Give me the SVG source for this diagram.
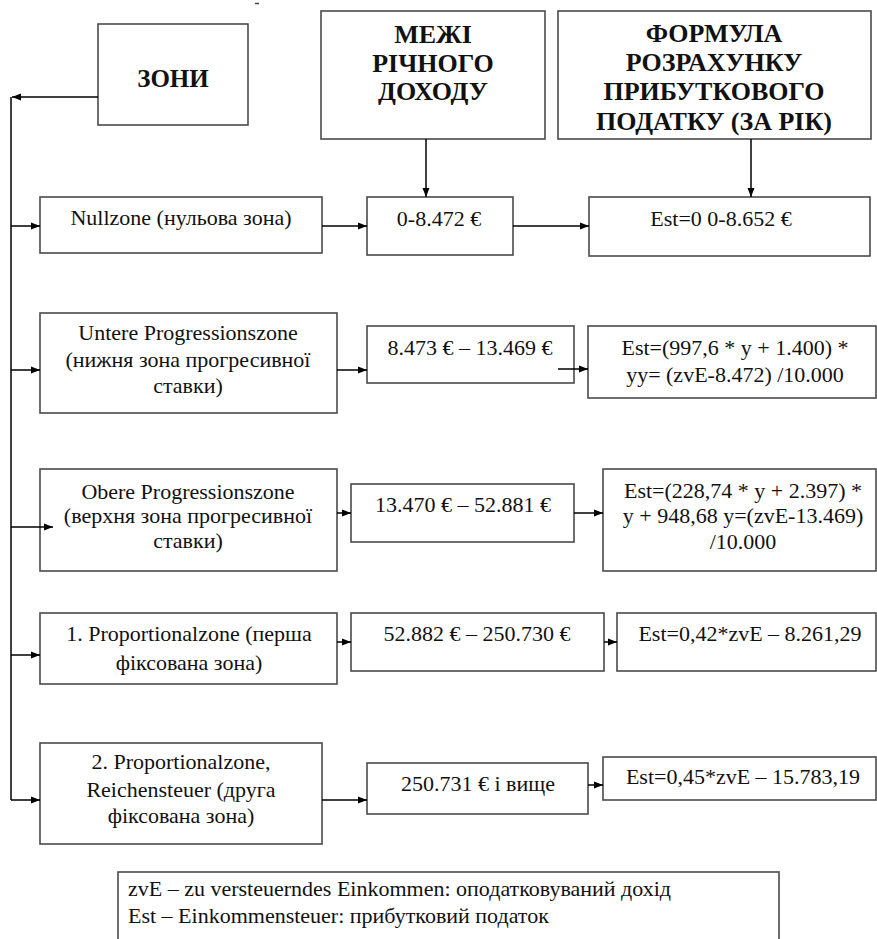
<svg xmlns="http://www.w3.org/2000/svg" width="877" height="939" viewBox="0 0 877 939">
<defs>
<marker id="ah" markerWidth="9" markerHeight="8" refX="9" refY="4" orient="auto" markerUnits="userSpaceOnUse"><path d="M0,0.5 L9,4 L0,7.5 z" fill="#000"/></marker>
<style>
.box{fill:#fff;stroke:#4a4a4a;stroke-width:1.6}
text{font-family:'Liberation Serif','DejaVu Serif','Noto Serif',serif;fill:#111}
.t{font-size:22px;text-anchor:middle}
.h{font-size:26px;font-weight:bold;text-anchor:middle}
.lg{font-size:22px}
.c{fill:none;stroke:#000;stroke-width:1.5}
.ca{fill:none;stroke:#000;stroke-width:1.5;marker-end:url(#ah)}
</style>
</defs>
<rect width="877" height="939" fill="#fff"/>
<line x1="255" y1="3.5" x2="259" y2="3.5" stroke="#444" stroke-width="1.5"/>

<g id="zones-header"><rect class="box" x="98" y="24" width="150" height="101"/><text class="h" x="173" y="87" style="font-size:25px">ЗОНИ</text></g>
<g id="limits-header"><rect class="box" x="321" y="11" width="224" height="128"/>
<text class="h" x="433" y="43">МЕЖІ</text><text class="h" x="433" y="72">РІЧНОГО</text><text class="h" x="433" y="100">ДОХОДУ</text></g>
<g id="formula-header"><rect class="box" x="558" y="11" width="313" height="128"/>
<text class="h" x="714" y="42">ФОРМУЛА</text><text class="h" x="714" y="71">РОЗРАХУНКУ</text><text class="h" x="714" y="100">ПРИБУТКОВОГО</text><text class="h" x="714" y="130">ПОДАТКУ (ЗА РІК)</text></g>

<g id="zone1"><rect class="box" x="40" y="197" width="282" height="56"/><text class="t" x="181" y="225">Nullzone (нульова зона)</text></g>
<g id="limit1"><rect class="box" x="367" y="197" width="146" height="58"/><text class="t" x="439" y="226">0-8.472 €</text></g>
<g id="formula1"><rect class="box" x="589" y="197" width="281" height="59"/><text class="t" x="721" y="226">Est=0 0-8.652 €</text></g>

<g id="zone2"><rect class="box" x="40" y="313" width="297" height="100"/>
<text class="t" x="188" y="340">Untere Progressionszone</text><text class="t" x="188" y="367">(нижня зона прогресивної</text><text class="t" x="188" y="393">ставки)</text></g>
<g id="limit2"><rect class="box" x="367" y="326" width="207" height="57"/><text class="t" x="470" y="355">8.473 € – 13.469 €</text></g>
<g id="formula2"><rect class="box" x="588" y="326" width="288" height="72"/>
<text class="t" x="735" y="355">Est=(997,6 * y + 1.400) *</text><text class="t" x="735" y="382">yy= (zvE-8.472) /10.000</text></g>

<g id="zone3"><rect class="box" x="40" y="469" width="297" height="102"/>
<text class="t" x="188" y="499">Obere Progressionszone</text><text class="t" x="188" y="523">(верхня зона прогресивної</text><text class="t" x="188" y="548">ставки)</text></g>
<g id="limit3"><rect class="box" x="351" y="484" width="223" height="58"/><text class="t" x="463" y="512">13.470 € – 52.881 €</text></g>
<g id="formula3"><rect class="box" x="603" y="469" width="273" height="102"/>
<text class="t" x="743" y="498">Est=(228,74 * y + 2.397) *</text><text class="t" x="743" y="523">y + 948,68 y=(zvE-13.469)</text><text class="t" x="743" y="549">/10.000</text></g>

<g id="zone4"><rect class="box" x="40" y="613" width="297" height="71"/>
<text class="t" x="189" y="641">1. Proportionalzone (перша</text><text class="t" x="189" y="670">фіксована зона)</text></g>
<g id="limit4"><rect class="box" x="351" y="613" width="253" height="58"/><text class="t" x="477" y="641">52.882 € – 250.730 €</text></g>
<g id="formula4"><rect class="box" x="617" y="613" width="259" height="58"/><text class="t" x="750" y="641">Est=0,42*zvE – 8.261,29</text></g>

<g id="zone5"><rect class="box" x="40" y="743" width="282" height="101"/>
<text class="t" x="181" y="769">2. Proportionalzone,</text><text class="t" x="181" y="797">Reichensteuer (друга</text><text class="t" x="181" y="823">фіксована зона)</text></g>
<g id="limit5"><rect class="box" x="367" y="763" width="221" height="51"/><text class="t" x="478" y="791">250.731 € і вище</text></g>
<g id="formula5"><rect class="box" x="603" y="757" width="273" height="43"/><text class="t" x="743" y="784">Est=0,45*zvE – 15.783,19</text></g>

<g id="legend"><rect class="box" x="118" y="872" width="661" height="80"/>
<text class="lg" x="128" y="896">zvE – zu versteuerndes Einkommen: оподатковуваний дохід</text>
<text class="lg" x="128" y="923">Est – Einkommensteuer: прибутковий податок</text></g>

<g id="connectors">
<path class="ca" d="M98,97 H12"/>
<path class="c" d="M11,97 V800"/>
<path class="ca" d="M426,139 V197"/>
<path class="ca" d="M751,139 V197"/>
<path class="ca" d="M11,226 H40"/>
<path class="ca" d="M322,226 H367"/>
<path class="ca" d="M513,226 H589"/>
<path class="ca" d="M11,370 H40"/>
<path class="ca" d="M337,370 H367"/>
<path class="ca" d="M558,369 H588"/>
<path class="ca" d="M11,527 H53"/>
<path class="ca" d="M337,513 H351"/>
<path class="ca" d="M574,513 H603"/>
<path class="ca" d="M11,655 H40"/>
<path class="ca" d="M337,642 H351"/>
<path class="ca" d="M604,642 H617"/>
<path class="ca" d="M11,800 H40"/>
<path class="ca" d="M322,800 H367"/>
<path class="ca" d="M588,785 H603"/>
</g>
</svg>
